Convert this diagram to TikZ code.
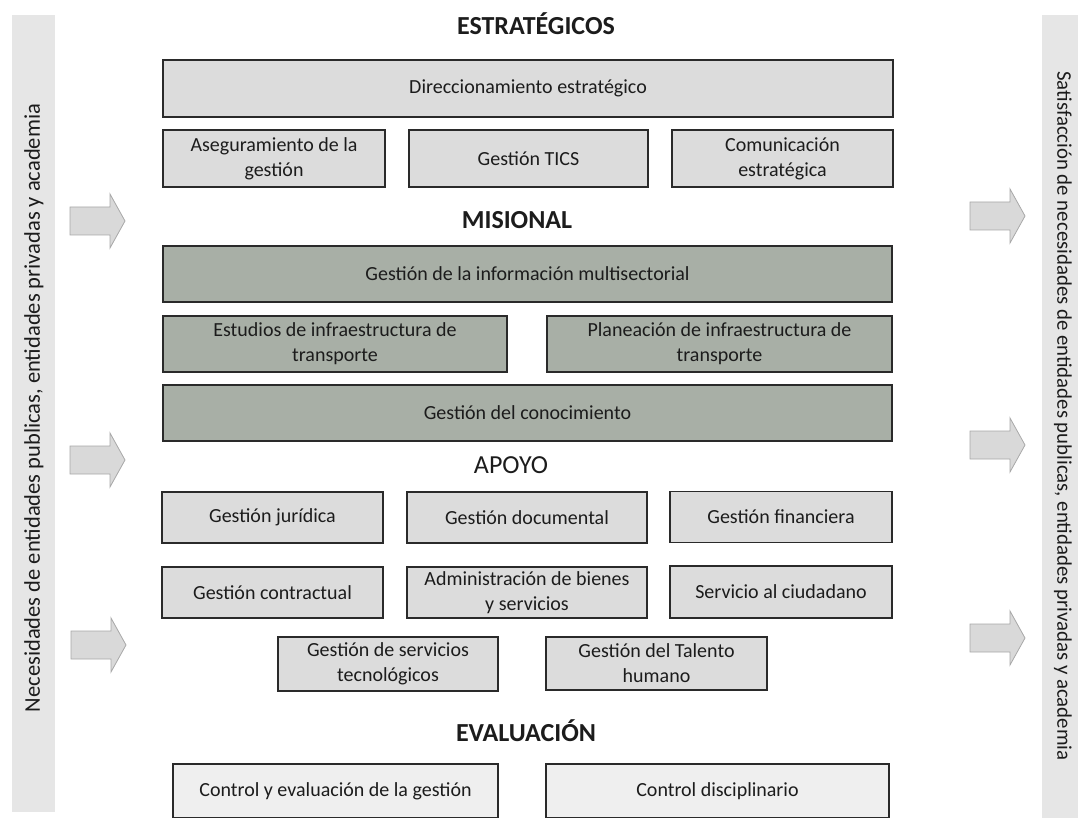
\documentclass[tikz,border=0pt]{standalone}
\usepackage{fontspec}
\setmainfont{Carlito}
\definecolor{lightbox}{HTML}{DCDCDC}
\definecolor{misbox}{HTML}{A8AFA6}
\definecolor{evalbox}{HTML}{EFEFEF}
\definecolor{boxline}{HTML}{2A2A2A}
\definecolor{barfill}{HTML}{E6E6E6}
\definecolor{arrfill}{HTML}{D9D9D9}
\definecolor{arrline}{HTML}{A8A8A8}
\definecolor{txt}{HTML}{1C1C1C}
\newcommand{\boxfont}{\fontsize{20}{25}\selectfont}
\newcommand{\ttlfont}{\fontsize{26}{30}\selectfont}
\newcommand{\lsidefont}{\fontsize{22.5}{26}\selectfont}
\newcommand{\rsidefont}{\fontsize{20.8}{24}\selectfont}
\begin{document}
\begin{tikzpicture}[x=1pt,y=-1pt,
  box/.style={draw=boxline, line width=1.8pt, fill=lightbox, align=center,
    font=\boxfont, text=txt, inner sep=0pt},
  mbox/.style={box, fill=misbox},
  ebox/.style={box, fill=evalbox, line width=2.2pt},
  ttl/.style={font=\ttlfont\bfseries, text=txt, inner sep=0pt},
  ttlr/.style={font=\ttlfont, text=txt, inner sep=0pt},
  side/.style={text=txt, inner sep=0pt},
  bar/.style={fill=barfill},
  blockarrow/.pic={\filldraw[fill=arrfill, draw=arrline, line width=0.8pt]
    (-27,-14) -- (13,-14) -- (13,-27) -- (28,0) -- (13,27) -- (13,14) -- (-27,14) -- cycle;}
]
\useasboundingbox (0,0) rectangle (1078,818);
\fill[white] (0,0) rectangle (1078,818);

% side bars
\fill[bar] (12,15) rectangle (55,812);
\fill[bar] (1042,15) rectangle (1078,818);
\node[side, font=\lsidefont, rotate=90] (lefttext) at (34,408)
  {Necesidades de entidades publicas, entidades privadas y academia};
\node[side, font=\rsidefont, rotate=-90] (righttext) at (1063,416)
  {Satisfacción de necesidades de entidades publicas, entidades privadas y academia};

% block arrows
\pic at (97,221) {blockarrow};
\pic at (97,460) {blockarrow};
\pic at (98,645) {blockarrow};
\pic at (997,216) {blockarrow};
\pic at (997,445) {blockarrow};
\pic at (997,638) {blockarrow};

% titles
\node[ttl] (testr) at (536,24) {ESTRATÉGICOS};
\node[ttl] (tmis) at (517,220) {MISIONAL};
\node[ttlr] (tapo) at (511,465) {APOYO};
\node[ttl] (teva) at (526,731) {EVALUACIÓN};

% estrategicos
\node[box, minimum width=730, minimum height=57] (dir) at (528,88.5) {Direccionamiento estratégico};
\node[box, minimum width=222, minimum height=57] (aseg) at (274,158.5) {Aseguramiento de la\\gestión};
\node[box, minimum width=239, minimum height=57] (tics) at (528.5,158.5) {Gestión TICS};
\node[box, minimum width=221, minimum height=57] (com) at (782.5,158.5) {Comunicación\\estratégica};

% misional
\node[mbox, minimum width=729, minimum height=56] (info) at (527.5,274) {Gestión de la información multisectorial};
\node[mbox, minimum width=344, minimum height=56] (est) at (335,344) {Estudios de infraestructura de\\transporte};
\node[mbox, minimum width=345, minimum height=56] (plan) at (719.5,344) {Planeación de infraestructura de\\transporte};
\node[mbox, minimum width=729, minimum height=56] (con) at (527.5,413) {Gestión del conocimiento};

% apoyo
\node[box, minimum width=221, minimum height=51] (jur) at (272.5,517.5) {Gestión jurídica};
\node[box, minimum width=240, minimum height=51] (doc) at (527,517.5) {Gestión documental};
\node[box, minimum width=222, minimum height=51] (fin) at (781,517) {Gestión financiera};
\node[box, minimum width=221, minimum height=51] (contr) at (272.5,592.5) {Gestión contractual};
\node[box, minimum width=240, minimum height=51] (adm) at (527,592.5) {Administración de bienes\\y servicios};
\node[box, minimum width=222, minimum height=52] (serv) at (781,592) {Servicio al ciudadano};
\node[box, minimum width=220, minimum height=54] (tec) at (388,664) {Gestión de servicios\\tecnológicos};
\node[box, minimum width=221, minimum height=53] (tal) at (656.5,663.5) {Gestión del Talento\\humano};

% evaluacion
\node[ebox, minimum width=325, minimum height=54] (ctrl) at (335.5,791) {Control y evaluación de la gestión};
\node[ebox, minimum width=343, minimum height=54] (disc) at (717.5,791) {Control disciplinario};
\end{tikzpicture}
\end{document}
